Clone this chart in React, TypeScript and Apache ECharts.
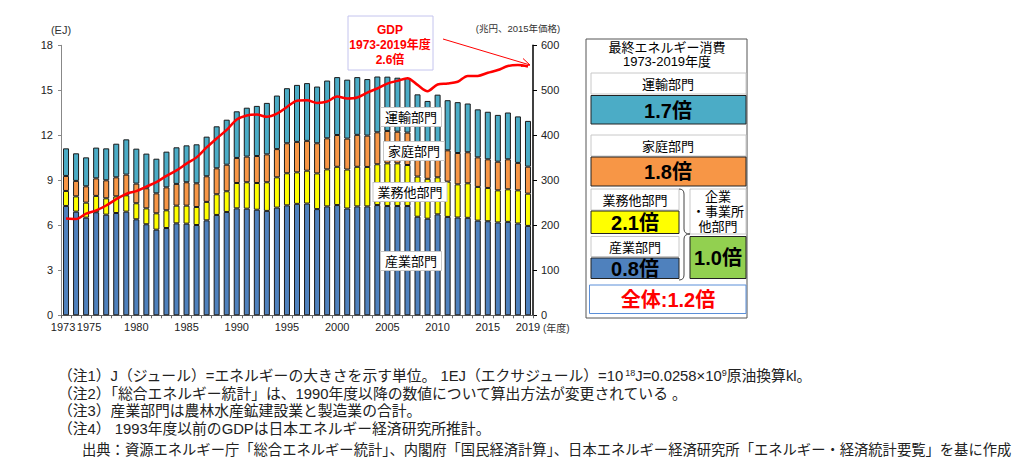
import React, { useEffect, useRef } from "react";
import * as echarts from "echarts";

const years = ["1973","1974","1975","1976","1977","1978","1979","1980","1981","1982","1983","1984","1985","1986","1987","1988","1989","1990","1991","1992","1993","1994","1995","1996","1997","1998","1999","2000","2001","2002","2003","2004","2005","2006","2007","2008","2009","2010","2011","2012","2013","2014","2015","2016","2017","2018","2019"];
const shownYears = ["1975","1980","1985","1990","1995","2000","2005","2010","2015","2019"];
const firstYear = "1973";

// 産業部門 (EJ)
const industry = [7.29,6.91,6.51,6.87,6.71,6.82,6.91,6.40,6.07,5.71,5.82,6.13,6.11,6.02,6.33,6.69,6.89,7.13,7.11,7.04,6.96,7.18,7.33,7.43,7.45,7.08,7.26,7.35,7.12,7.26,7.26,7.35,7.29,7.29,7.29,6.57,6.44,6.73,6.56,6.52,6.50,6.31,6.27,6.19,6.23,6.12,5.96];
// 業務他部門 (EJ)
const business = [1.00,1.02,1.00,1.09,1.09,1.11,1.09,1.07,1.06,1.09,1.18,1.18,1.20,1.20,1.23,1.38,1.38,1.69,1.76,1.78,1.91,2.02,2.14,2.10,2.19,2.38,2.47,2.55,2.60,2.64,2.63,2.72,2.84,2.84,2.73,2.68,2.66,2.47,2.35,2.21,2.30,2.25,2.22,2.14,2.17,2.21,2.15];
// 家庭部門 (EJ)
const household = [1.00,1.03,1.09,1.17,1.20,1.27,1.38,1.31,1.34,1.33,1.53,1.45,1.56,1.58,1.71,1.73,1.77,1.67,1.71,1.80,1.86,1.88,2.00,2.03,1.99,2.01,2.07,2.12,2.06,2.13,2.09,2.13,2.16,2.11,2.16,2.05,2.10,2.25,2.09,2.09,2.07,1.97,1.91,1.91,2.00,1.83,1.80];
// 運輸部門 (EJ)
const transport = [1.84,1.84,1.93,2.05,2.13,2.24,2.35,2.33,2.31,2.31,2.38,2.44,2.46,2.60,2.64,2.80,3.00,3.11,3.26,3.34,3.43,3.57,3.67,3.80,3.85,3.78,3.85,3.86,3.93,3.85,3.77,3.72,3.62,3.60,3.64,3.43,3.09,3.26,3.34,3.39,3.25,3.20,3.17,3.12,3.12,3.10,3.05];
// GDP (兆円、2015年価格)
const gdp = [215,214,226,233,244,258,270,276,286,296,310,322,337,351,373,393,412,435,444,446,441,448,463,477,478,472,475,486,482,484,495,504,515,521,527,512,498,513,515,519,532,532,539,545,554,556,553];

const leftTicks = { min: 0, max: 18, interval: 3 };
const rightTicks = { min: 0, max: 600, interval: 100 };

const FONT = "'Liberation Sans', 'Noto Sans CJK JP', sans-serif";
const BLUE = "#4f81bd";
const YELLOW = "#ffff00";
const ORANGE = "#f79646";
const CYAN = "#4bacc6";
const GREEN = "#92d050";

echarts.graphic.registerShape(
  "brace",
  echarts.graphic.extendPath("M0,0 Q5,0 5,5 L5,40 Q5,45 11,45 Q5,45 5,50 L5,86 Q5,91 0,91", {})
);

function txt(x: number, y: number, text: string, size: number, extra: any = {}) {
  return {
    type: "text",
    x,
    y,
    z: 100,
    style: {
      text,
      fontSize: size,
      fontFamily: FONT,
      fill: "#000",
      align: "center",
      verticalAlign: "middle",
      ...extra,
    },
  };
}

function box(x: number, y: number, w: number, h: number, fill: string, stroke: string) {
  return {
    type: "rect",
    z: 90,
    shape: { x, y, width: w, height: h },
    style: { fill, stroke, lineWidth: 1 },
  };
}

function chartLabel(x: number, y: number, text: string) {
  return txt(x, y, text, 13, {
    backgroundColor: "#fff",
    borderColor: "#c8c8c8",
    borderWidth: 1,
    padding: [3, 4, 2, 4],
  });
}

const notes = [
  "（注1）J（ジュール）=エネルギーの大きさを示す単位。 1EJ（エクサジュール）=10{s|18}J=0.0258×10{s|9}原油換算kl。",
  "（注2）「総合エネルギー統計」は、1990年度以降の数値について算出方法が変更されている 。",
  "（注3）産業部門は農林水産鉱建設業と製造業の合計。",
  "（注4） 1993年度以前のGDPは日本エネルギー経済研究所推計。",
];
const source = "出典：資源エネルギー庁「総合エネルギー統計」、内閣府「国民経済計算」、日本エネルギー経済研究所「エネルギー・経済統計要覧」を基に作成";

export default function App() {
  const ref = useRef<HTMLDivElement>(null);
  useEffect(() => {
    if (!ref.current) return;
    const chart = echarts.init(ref.current, undefined, { renderer: "svg" });
    const barCommon = {
      type: "bar",
      stack: "e",
      barWidth: 6,
      itemStyle: { borderColor: "#1a1a1a", borderWidth: 1 },
    };
    const noteY = [376, 393.5, 411, 428.5];
    const graphic: any[] = [
      txt(61, 30, "(EJ)", 11, { fill: "#333" }),
      txt(518, 28, "(兆円、2015年価格)", 9.5, { fill: "#333" }),
      txt(543, 328, "(年度)", 10, { fill: "#333", align: "left" }),
      chartLabel(411, 117, "運輸部門"),
      chartLabel(414, 151, "家庭部門"),
      chartLabel(410, 192, "業務他部門"),
      chartLabel(411, 261, "産業部門"),
      box(348, 16, 85, 54, "#fff", "#c4c4ee"),
      txt(390, 30, "GDP", 12, { fill: "#ff0000", fontWeight: "bold" }),
      txt(390, 45, "1973-2019年度", 12, { fill: "#ff0000", fontWeight: "bold" }),
      txt(390, 60, "2.6倍", 12, { fill: "#ff0000", fontWeight: "bold" }),
      { type: "line", z: 100, shape: { x1: 443, y1: 39, x2: 530, y2: 65 }, style: { stroke: "#ff0000", lineWidth: 1 } },
      { type: "polyline", z: 100, shape: { points: [[521, 66.5], [530, 65], [523, 58.5]] }, style: { stroke: "#ff0000", lineWidth: 1, fill: "none" } },
      // legend panel
      box(586, 39, 161, 279, "#fff", "#555"),
      txt(667, 47.5, "最終エネルギー消費", 13),
      txt(667, 61.5, "1973-2019年度", 13),
      box(591, 73, 155, 21, "#fff", "#c8c8c8"),
      txt(668, 84, "運輸部門", 13),
      box(591, 95.5, 155, 28.5, CYAN, "#222"),
      txt(668, 110.5, "1.7倍", 20, { fontWeight: "bold" }),
      box(591, 135, 155, 21, "#fff", "#c8c8c8"),
      txt(668, 146, "家庭部門", 13),
      box(591, 157, 155, 29, ORANGE, "#222"),
      txt(668, 172, "1.8倍", 20, { fontWeight: "bold" }),
      box(591, 189, 88, 21, "#fff", "#c8c8c8"),
      txt(635, 200, "業務他部門", 13),
      box(591, 211, 88, 22.5, YELLOW, "#222"),
      txt(635, 223, "2.1倍", 20, { fontWeight: "bold" }),
      box(591, 236.5, 88, 20, "#fff", "#c8c8c8"),
      txt(635, 247, "産業部門", 13),
      box(591, 258, 88, 20.5, BLUE, "#222"),
      txt(635, 269, "0.8倍", 20, { fontWeight: "bold" }),
      { type: "brace", x: 679, y: 189, z: 95, style: { stroke: "#444", lineWidth: 1, fill: "none" } },
      box(690, 189, 56, 45, "#fff", "#c8c8c8"),
      txt(718, 196.5, "企業", 13),
      txt(718, 211.5, "・事業所", 13),
      txt(718, 226.5, "他部門", 13),
      box(690, 236.5, 56, 42, GREEN, "#222"),
      txt(718, 258, "1.0倍", 20, { fontWeight: "bold" }),
      box(589.5, 285, 156.5, 28.5, "#fff", "#5b8fd8"),
      txt(668, 300, "全体:1.2倍", 20, { fontWeight: "bold", fill: "#ff0000" }),
      // notes
      ...notes.map((n, i) =>
        txt(58, noteY[i], n, 14.8, {
          align: "left",
          fill: "#222",
          rich: { s: { fontSize: 9, verticalAlign: "top", fontFamily: FONT, fill: "#222" } },
        })
      ),
      txt(82, 450, source, 14.3, { align: "left", fill: "#222" }),
    ];
    const yearRich = {
      a: { fontSize: 11, color: "#222", fontFamily: FONT },
      b: { fontSize: 11, width: 6 },
    };
    const labelBase = { fontSize: 11, color: "#222", margin: 6, hideOverlap: false, rich: yearRich };
    chart.setOption({
      animation: false,
      textStyle: { fontFamily: FONT },
      grid: { left: 61, right: 487, top: 45.3, bottom: 154.7 },
      xAxis: [
        {
          type: "category",
          position: "bottom",
          data: years,
          axisLine: { lineStyle: { color: "#666" } },
          axisTick: { show: true, interval: 0, length: 3, lineStyle: { color: "#666" } },
          axisLabel: {
            ...labelBase,
            interval: (_i: number, v: string) => shownYears.includes(v),
            formatter: (v: string) => (v === shownYears[0] ? `{b| }{a|${v}}` : `{a|${v}}`),
            showMinLabel: true,
            showMaxLabel: true,
          },
        },
        {
          type: "category",
          position: "bottom",
          offset: 0,
          data: years,
          axisLine: { show: false },
          axisTick: { show: false },
          axisLabel: {
            ...labelBase,
            interval: (_i: number, v: string) => v === firstYear,
            formatter: (v: string) => `{a|${v}}{b| }`,
            showMinLabel: true,
            showMaxLabel: false,
          },
        },
      ],
      yAxis: [
        {
          type: "value",
          ...leftTicks,
          axisLine: { show: true, lineStyle: { color: "#888" } },
          axisTick: { show: true, length: 3, lineStyle: { color: "#888" } },
          axisLabel: { fontSize: 11, color: "#222", margin: 8 },
          splitLine: { show: false },
        },
        {
          type: "value",
          position: "right",
          ...rightTicks,
          axisLine: { show: true, lineStyle: { color: "#000", width: 1.5 } },
          axisTick: { show: true, length: 4, lineStyle: { color: "#000" } },
          axisLabel: { fontSize: 11, color: "#222", margin: 8 },
          splitLine: { show: false },
        },
      ],
      series: [
        { ...barCommon, name: "産業部門", data: industry, itemStyle: { ...barCommon.itemStyle, color: BLUE } },
        { ...barCommon, name: "業務他部門", data: business, itemStyle: { ...barCommon.itemStyle, color: YELLOW } },
        { ...barCommon, name: "家庭部門", data: household, itemStyle: { ...barCommon.itemStyle, color: ORANGE } },
        { ...barCommon, name: "運輸部門", data: transport, itemStyle: { ...barCommon.itemStyle, color: CYAN } },
        {
          type: "line",
          name: "GDP",
          yAxisIndex: 1,
          data: gdp,
          symbol: "none",
          smooth: 0.3,
          z: 5,
          lineStyle: { color: "#ff0000", width: 2.5 },
        },
      ],
      graphic,
    });
    return () => chart.dispose();
  }, []);
  return <div ref={ref} style={{ position: "absolute", left: 0, top: 0, width: 1020, height: 470 }} />;
}
